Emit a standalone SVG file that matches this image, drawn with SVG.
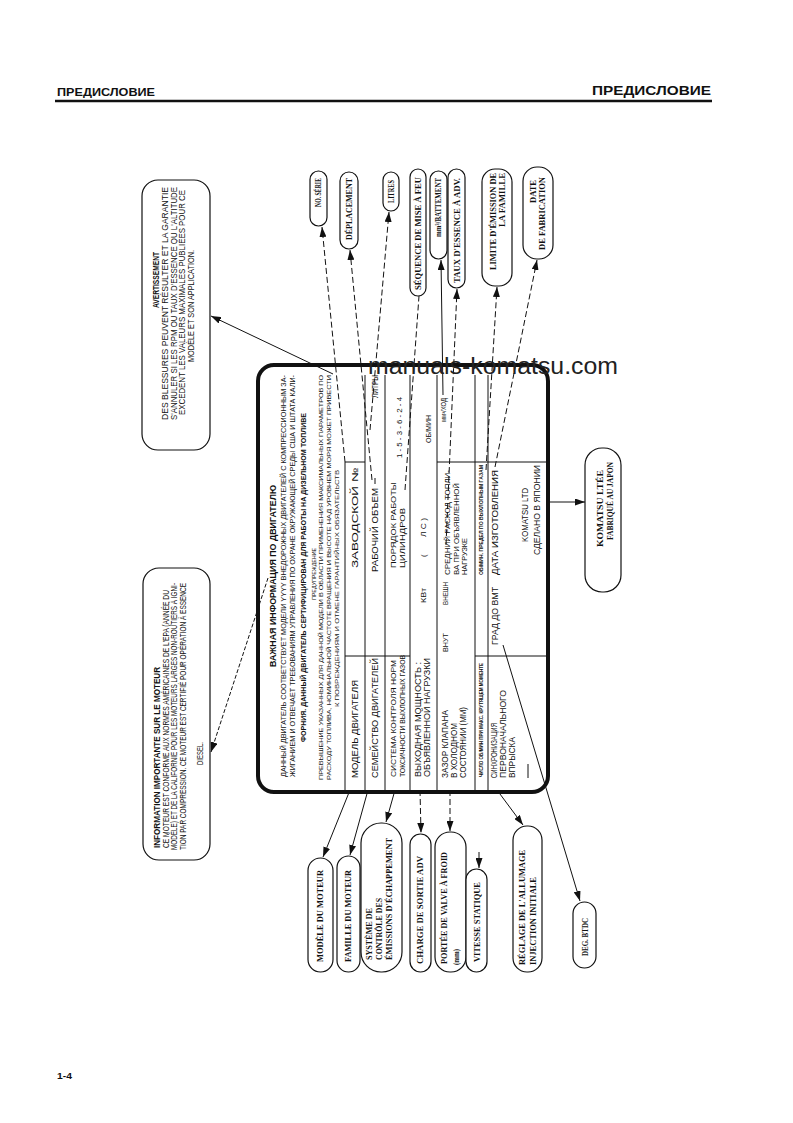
<svg xmlns="http://www.w3.org/2000/svg" width="793" height="1123" viewBox="0 0 793 1123">
<style>
.hd{font-family:"Liberation Sans",Arial,sans-serif;font-weight:bold;fill:#111}
.pt{font-family:"Liberation Sans",Arial,sans-serif;fill:#111}
.b{font-weight:bold}
.cb{font-family:"Liberation Serif","Times New Roman",serif;font-weight:bold;font-size:8px;fill:#111}
.bx{font-family:"Liberation Sans",Arial,sans-serif;font-size:8.5px;fill:#111}
.ln{stroke:#111;stroke-width:1;fill:none}
.dl{stroke:#111;stroke-width:1;fill:none;stroke-dasharray:6 3}
.bub{fill:#fff;stroke:#111;stroke-width:1.2}
.tl{stroke:#111;stroke-width:1;fill:none}
</style>
<defs>
<marker id="ah" viewBox="0 0 10 7" refX="10" refY="3.5" markerWidth="10" markerHeight="7" markerUnits="userSpaceOnUse" orient="auto">
<path d="M0,0 L10,3.5 L0,7 z" fill="#111"/>
</marker>
</defs>
<rect width="793" height="1123" fill="#fff"/>

<g id="header">
<text class="hd" x="57" y="96" font-size="11" textLength="98" lengthAdjust="spacingAndGlyphs">ПРЕДИСЛОВИЕ</text>
<text class="hd" x="592" y="95" font-size="13.5" textLength="119" lengthAdjust="spacingAndGlyphs">ПРЕДИСЛОВИЕ</text>
<line x1="55" y1="101" x2="712" y2="101" stroke="#111" stroke-width="2.5"/>
<text class="hd" x="57" y="1079" font-size="9" textLength="15" lengthAdjust="spacingAndGlyphs">1-4</text>
</g>

<g id="connectors">
<line class="ln" x1="333" y1="374" x2="211" y2="316" marker-end="url(#ah)"/>
<line class="ln" x1="268" y1="578" x2="211" y2="752" stroke-dasharray="4 2" marker-end="url(#ah)"/>
<line class="dl" x1="345" y1="462" x2="322" y2="227" marker-end="url(#ah)"/>
<line class="dl" x1="372" y1="480" x2="350" y2="250" marker-end="url(#ah)"/>
<line class="dl" x1="370" y1="430" x2="389" y2="212" marker-end="url(#ah)"/>
<line class="dl" x1="405" y1="490" x2="419" y2="296"/>
<line class="ln" x1="443" y1="395" x2="441" y2="260" marker-end="url(#ah)"/>
<line class="dl" x1="446" y1="545" x2="457" y2="289" marker-end="url(#ah)"/>
<line class="dl" x1="486" y1="470" x2="497" y2="287" marker-end="url(#ah)"/>
<line class="dl" x1="495" y1="467" x2="537" y2="260" marker-end="url(#ah)"/>
<line class="ln" x1="548" y1="502" x2="585" y2="502" marker-end="url(#ah)"/>
<line class="ln" x1="350" y1="790" x2="323" y2="857" marker-end="url(#ah)"/>
<line class="ln" x1="368" y1="790" x2="350" y2="855" marker-end="url(#ah)"/>
<line class="ln" x1="395" y1="790" x2="386" y2="822" marker-end="url(#ah)"/>
<line class="dl" x1="420" y1="790" x2="421" y2="833" marker-end="url(#ah)"/>
<line class="dl" x1="450" y1="790" x2="450" y2="831" marker-end="url(#ah)"/>
<line class="ln" x1="479" y1="852" x2="479" y2="868" marker-end="url(#ah)"/>
<line class="ln" x1="497" y1="790" x2="523" y2="825" marker-end="url(#ah)"/>
<line class="ln" x1="503" y1="645" x2="580" y2="901" marker-end="url(#ah)"/>
</g>

<g id="plate">
<rect x="258" y="365" width="290" height="427" rx="16" fill="none" stroke="#111" stroke-width="4"/>
<g class="tl">
<line x1="345" y1="462" x2="345" y2="790"/>
<line x1="365" y1="375" x2="365" y2="790"/>
<line x1="385" y1="375" x2="385" y2="790"/>
<line x1="410" y1="375" x2="410" y2="790"/>
<line x1="437" y1="375" x2="437" y2="790"/>
<line x1="475" y1="375" x2="475" y2="790"/>
<line x1="488" y1="375" x2="488" y2="790"/>
<line x1="345" y1="656" x2="410" y2="656"/>
<line x1="475" y1="656" x2="546" y2="656"/>
<line x1="345" y1="462" x2="365" y2="462"/>
<line x1="437" y1="462" x2="546" y2="462"/>
<line x1="375" y1="478" x2="375" y2="484"/>
<line x1="528" y1="764" x2="528" y2="778"/>
</g>
<text class="pt b" font-size="9" transform="translate(276,667) rotate(-90)" textLength="182" lengthAdjust="spacingAndGlyphs">ВАЖНАЯ ИНФОРМАЦИЯ ПО ДВИГАТЕЛЮ</text>
<text class="pt" font-size="7" transform="translate(285.5,777) rotate(-90)" textLength="402" lengthAdjust="spacingAndGlyphs">ДАННЫЙ ДВИГАТЕЛЬ СООТВЕТСТВУЕТ МОДЕЛИ YYYY ВНЕДОРОЖНЫХ ДВИГАТЕЛЕЙ С КОМПРЕССИОННЫМ ЗА-</text>
<text class="pt" font-size="7" transform="translate(294.5,777) rotate(-90)" textLength="402" lengthAdjust="spacingAndGlyphs">ЖИГАНИЕМ И ОТВЕЧАЕТ ТРЕБОВАНИЯМ УПРАВЛЕНИЯ ПО ОХРАНЕ ОКРУЖАЮЩЕЙ СРЕДЫ США И ШТАТА КАЛИ-</text>
<text class="pt b" font-size="7" transform="translate(305.5,742) rotate(-90)" textLength="329" lengthAdjust="spacingAndGlyphs">ФОРНИЯ. ДАННЫЙ ДВИГАТЕЛЬ СЕРТИФИЦИРОВАН ДЛЯ РАБОТЫ НА ДИЗЕЛЬНОМ ТОПЛИВЕ</text>
<text class="pt" font-size="6" transform="translate(316,600) rotate(-90)" textLength="52" lengthAdjust="spacingAndGlyphs">ПРЕДУПРЕЖДЕНИЕ</text>
<text class="pt" font-size="6" transform="translate(323,780) rotate(-90)" textLength="405" lengthAdjust="spacingAndGlyphs">ПРЕВЫШЕНИЕ УКАЗАННЫХ ДЛЯ ДАННОЙ МОДЕЛИ В ОБЛАСТИ ПРИМЕНЕНИЯ МАКСИМАЛЬНЫХ ПАРАМЕТРОВ ПО</text>
<text class="pt" font-size="6" transform="translate(331,780) rotate(-90)" textLength="405" lengthAdjust="spacingAndGlyphs">РАСХОДУ ТОПЛИВА, НОМИНАЛЬНОЙ ЧАСТОТЕ ВРАЩЕНИЯ И ВЫСОТЕ НАД УРОВНЕМ МОРЯ МОЖЕТ ПРИВЕСТИ</text>
<text class="pt" font-size="6" transform="translate(339,707) rotate(-90)" textLength="237" lengthAdjust="spacingAndGlyphs">К ПОВРЕЖДЕНИЯМ И ОТМЕНЕ ГАРАНТИЙНЫХ ОБЯЗАТЕЛЬСТВ</text>

<text class="pt" font-size="8.5" transform="translate(358,778) rotate(-90)" textLength="98" lengthAdjust="spacingAndGlyphs">МОДЕЛЬ ДВИГАТЕЛЯ</text>
<text class="pt" font-size="8.5" transform="translate(358,568) rotate(-90)" textLength="100" lengthAdjust="spacingAndGlyphs">ЗАВОДСКОЙ №</text>
<text class="pt" font-size="8.5" transform="translate(378,778) rotate(-90)" textLength="120" lengthAdjust="spacingAndGlyphs">СЕМЕЙСТВО ДВИГАТЕЛЕЙ</text>
<text class="pt" font-size="8.5" transform="translate(378,572) rotate(-90)" textLength="84" lengthAdjust="spacingAndGlyphs">РАБОЧИЙ ОБЪЕМ</text>
<text class="pt" font-size="8.5" transform="translate(378,398) rotate(-90)" textLength="23" lengthAdjust="spacingAndGlyphs">ЛИТРЫ</text>
<text class="pt" font-size="7.5" transform="translate(396,777) rotate(-90)" textLength="117" lengthAdjust="spacingAndGlyphs">СИСТЕМА КОНТРОЛЯ НОРМ</text>
<text class="pt" font-size="7.5" transform="translate(405,777) rotate(-90)" textLength="122" lengthAdjust="spacingAndGlyphs">ТОКСИЧНОСТИ ВЫХЛОПНЫХ ГАЗОВ</text>
<text class="pt" font-size="8" transform="translate(396,568) rotate(-90)" textLength="86" lengthAdjust="spacingAndGlyphs">ПОРЯДОК РАБОТЫ</text>
<text class="pt" font-size="8" transform="translate(405,568) rotate(-90)" textLength="60" lengthAdjust="spacingAndGlyphs">ЦИЛИНДРОВ</text>
<text class="pt" font-size="7.5" transform="translate(402,458) rotate(-90)" textLength="61" lengthAdjust="spacingAndGlyphs">1 - 5 - 3 - 6 - 2 - 4</text>
<text class="pt" font-size="8.5" transform="translate(421,777) rotate(-90)" textLength="115" lengthAdjust="spacingAndGlyphs">ВЫХОДНАЯ МОЩНОСТЬ :</text>
<text class="pt" font-size="8.5" transform="translate(430,777) rotate(-90)" textLength="119" lengthAdjust="spacingAndGlyphs">ОБЪЯВЛЕННОЙ НАГРУЗКИ</text>
<text class="pt" font-size="8" transform="translate(426,603) rotate(-90)" textLength="15" lengthAdjust="spacingAndGlyphs">КВт</text>
<text class="pt" font-size="8" transform="translate(426,557) rotate(-90)">(</text>
<text class="pt" font-size="8" transform="translate(426,537) rotate(-90)" textLength="19" lengthAdjust="spacingAndGlyphs">Л С )</text>
<text class="pt" font-size="8" transform="translate(431,443) rotate(-90)" textLength="28" lengthAdjust="spacingAndGlyphs">ОБ/МИН</text>
<text class="pt" font-size="8.5" transform="translate(448,778) rotate(-90)" textLength="68" lengthAdjust="spacingAndGlyphs">ЗАЗОР КЛАПАНА</text>
<text class="pt" font-size="8.5" transform="translate(457,778) rotate(-90)" textLength="55" lengthAdjust="spacingAndGlyphs">В ХОЛОДНОМ</text>
<text class="pt" font-size="8.5" transform="translate(466,778) rotate(-90)" textLength="71" lengthAdjust="spacingAndGlyphs">СОСТОЯНИИ (ММ)</text>
<text class="pt" font-size="8" transform="translate(448,652) rotate(-90)" textLength="19" lengthAdjust="spacingAndGlyphs">ВНУТ</text>
<text class="pt" font-size="8" transform="translate(448,605) rotate(-90)" textLength="23" lengthAdjust="spacingAndGlyphs">ВНЕШН</text>
<text class="pt" font-size="7" transform="translate(450,575) rotate(-90)" textLength="105" lengthAdjust="spacingAndGlyphs">СРЕДНИЙ РАСХОД ТОПЛИ-</text>
<text class="pt" font-size="7" transform="translate(458.5,575) rotate(-90)" textLength="92" lengthAdjust="spacingAndGlyphs">ВА ПРИ ОБЪЯВЛЕННОЙ</text>
<text class="pt" font-size="7" transform="translate(467,575) rotate(-90)" textLength="37" lengthAdjust="spacingAndGlyphs">НАГРУЗКЕ</text>
<text class="pt" font-size="7" transform="translate(446,422) rotate(-90)" textLength="24" lengthAdjust="spacingAndGlyphs">мм³/ХОД</text>
<text class="pt b" font-size="5" transform="translate(483,777) rotate(-90)" textLength="114" lengthAdjust="spacingAndGlyphs">ЧИСЛО ОБ/МИН ПРИ МАКС. КРУТЯЩЕМ МОМЕНТЕ</text>
<text class="pt b" font-size="5.5" transform="translate(483,575) rotate(-90)" textLength="110" lengthAdjust="spacingAndGlyphs">ОБ/МИН. ПРЕДЕЛ ПО ВЫХЛОПНЫМ ГАЗАМ</text>
<text class="pt" font-size="8.5" transform="translate(497,778) rotate(-90)" textLength="55" lengthAdjust="spacingAndGlyphs">СИНХРОНИЗАЦИЯ</text>
<text class="pt" font-size="8.5" transform="translate(506,778) rotate(-90)" textLength="88" lengthAdjust="spacingAndGlyphs">ПЕРВОНАЧАЛЬНОГО</text>
<text class="pt" font-size="8.5" transform="translate(515,778) rotate(-90)" textLength="41" lengthAdjust="spacingAndGlyphs">ВПРЫСКА</text>
<text class="pt" font-size="8.5" transform="translate(498,645) rotate(-90)" textLength="58" lengthAdjust="spacingAndGlyphs">ГРАД ДО ВМТ</text>
<text class="pt" font-size="8.5" transform="translate(498,575) rotate(-90)" textLength="105" lengthAdjust="spacingAndGlyphs">ДАТА ИЗГОТОВЛЕНИЯ</text>
<text class="pt" font-size="8.5" transform="translate(528,542) rotate(-90)" textLength="54" lengthAdjust="spacingAndGlyphs">KOMATSU LTD</text>
<text class="pt" font-size="8.5" transform="translate(540,555) rotate(-90)" textLength="90" lengthAdjust="spacingAndGlyphs">СДЕЛАНО В ЯПОНИИ</text>
</g>

<g id="avertissement">
<rect x="142" y="180" width="68" height="270" rx="16" fill="none" stroke="#111" stroke-width="1.2"/>
<text class="bx b" transform="translate(159,308) rotate(-90)" textLength="56" lengthAdjust="spacingAndGlyphs">AVERTISSEMENT</text>
<text class="bx" transform="translate(168,420) rotate(-90)" textLength="233" lengthAdjust="spacingAndGlyphs">DES BLESSURES PEUVENT RÉSULTER ET LA GARANTIE</text>
<text class="bx" transform="translate(176.5,420) rotate(-90)" textLength="233" lengthAdjust="spacingAndGlyphs">S'ANNULER SI LES RPM OU TAUX D'ESSENCE OU L'ALTITUDE</text>
<text class="bx" transform="translate(185,415) rotate(-90)" textLength="225" lengthAdjust="spacingAndGlyphs">EXCEDENT LES VALEURS MAXIMALES PUBLIÉES POUR CE</text>
<text class="bx" transform="translate(194,362) rotate(-90)" textLength="112" lengthAdjust="spacingAndGlyphs">MODÈLE ET SON APPLICATION.</text>
</g>

<g id="information">
<rect x="143" y="568" width="67" height="292" rx="16" fill="none" stroke="#111" stroke-width="1.2"/>
<text class="bx b" transform="translate(160,848) rotate(-90)" textLength="181" lengthAdjust="spacingAndGlyphs">INFORMATION IMPORTANTE SUR LE MOTEUR</text>
<text class="bx" transform="translate(168.5,848) rotate(-90)" textLength="258" lengthAdjust="spacingAndGlyphs">CE MOTEUR EST CONFORME AUX NORMES AMÉRICAINES DE L'EPA (ANNÉE DU</text>
<text class="bx" transform="translate(177,850) rotate(-90)" textLength="267" lengthAdjust="spacingAndGlyphs">MODÈLE) ET DE LA CALIFORNIE POUR LES MOTEURS LARGES NON-ROUTIERS À IGNI-</text>
<text class="bx" transform="translate(185.5,850) rotate(-90)" textLength="267" lengthAdjust="spacingAndGlyphs">TION PAR COMPRESSION. CE MOTEUR EST CERTIFIÉ POUR OPÉRATION À ESSENCE</text>
<text class="bx" transform="translate(203,765) rotate(-90)" textLength="23" lengthAdjust="spacingAndGlyphs">DIESEL.</text>
</g>

<g id="no-serie"><rect class="bub" x="310" y="171" width="17" height="55" rx="8.5"/><text class="cb" transform="translate(321,207) rotate(-90)" textLength="29" lengthAdjust="spacingAndGlyphs">NO. SÉRIE</text></g>
<g id="deplacement"><rect class="bub" x="340" y="172" width="18" height="77" rx="9"/><text class="cb" transform="translate(352,240) rotate(-90)" textLength="62" lengthAdjust="spacingAndGlyphs">DÉPLACEMENT</text></g>
<g id="litres"><rect class="bub" x="383" y="172" width="16" height="39" rx="8"/><text class="cb" transform="translate(394,203) rotate(-90)" textLength="23" lengthAdjust="spacingAndGlyphs">LITRES</text></g>
<g id="sequence"><rect class="bub" x="410" y="169" width="16" height="127" rx="8"/><text class="cb" transform="translate(420.5,290) rotate(-90)" textLength="113" lengthAdjust="spacingAndGlyphs">SÉQUENCE DE MISE À FEU</text></g>
<g id="battement"><rect class="bub" x="430" y="171" width="17" height="88" rx="8.5"/><text class="cb" transform="translate(441,237) rotate(-90)" textLength="59" lengthAdjust="spacingAndGlyphs">mm³/BATTEMENT</text></g>
<g id="taux"><rect class="bub" x="448" y="169" width="17" height="119" rx="8.5"/><text class="cb" transform="translate(460,283) rotate(-90)" textLength="105" lengthAdjust="spacingAndGlyphs">TAUX D'ESSENCE À ADV.</text></g>
<g id="limite"><rect class="bub" x="482" y="169" width="30" height="117" rx="13"/><text class="cb" transform="translate(496,270) rotate(-90)" textLength="97" lengthAdjust="spacingAndGlyphs">LIMITE D'ÉMISSION DE</text><text class="cb" transform="translate(505,227) rotate(-90)" textLength="54" lengthAdjust="spacingAndGlyphs">LA FAMILLE</text></g>
<g id="date"><rect class="bub" x="523" y="167" width="30" height="92" rx="14"/><text class="cb" transform="translate(536,203) rotate(-90)" textLength="23" lengthAdjust="spacingAndGlyphs">DATE</text><text class="cb" transform="translate(545,250) rotate(-90)" textLength="73" lengthAdjust="spacingAndGlyphs">DE FABRICATION</text></g>
<g id="komatsu"><rect class="bub" x="585" y="448" width="36" height="144" rx="17"/><text class="cb" transform="translate(603,547) rotate(-90)" textLength="77" lengthAdjust="spacingAndGlyphs">KOMATSU LTÉE</text><text class="cb" transform="translate(613,540) rotate(-90)" textLength="78" lengthAdjust="spacingAndGlyphs">FABRIQUÉ AU JAPON</text></g>

<g id="modele"><rect class="bub" x="308" y="858" width="25" height="114" rx="12.5"/><text class="cb" transform="translate(323,962) rotate(-90)" textLength="92" lengthAdjust="spacingAndGlyphs">MODÈLE DU MOTEUR</text></g>
<g id="famille"><rect class="bub" x="337" y="856" width="23" height="116" rx="11.5"/><text class="cb" transform="translate(351,962) rotate(-90)" textLength="92" lengthAdjust="spacingAndGlyphs">FAMILLE DU MOTEUR</text></g>
<g id="systeme"><rect class="bub" x="361" y="823" width="41" height="149" rx="20"/><text class="cb" transform="translate(372,960) rotate(-90)" textLength="52" lengthAdjust="spacingAndGlyphs">SYSTÈME DE</text><text class="cb" transform="translate(382,960) rotate(-90)" textLength="62" lengthAdjust="spacingAndGlyphs">CONTRÔLE DES</text><text class="cb" transform="translate(392,960) rotate(-90)" textLength="122" lengthAdjust="spacingAndGlyphs">ÉMISSIONS D'ÉCHAPPEMENT</text></g>
<g id="charge"><rect class="bub" x="410" y="834" width="21" height="138" rx="10.5"/><text class="cb" transform="translate(423,964) rotate(-90)" textLength="108" lengthAdjust="spacingAndGlyphs">CHARGE DE SORTIE ADV</text></g>
<g id="portee"><rect class="bub" x="435" y="832" width="31" height="140" rx="15"/><text class="cb" transform="translate(447,964) rotate(-90)" textLength="112" lengthAdjust="spacingAndGlyphs">PORTÉE DE VALVE À FROID</text><text class="cb" transform="translate(459,965) rotate(-90)" textLength="16" lengthAdjust="spacingAndGlyphs">(mm)</text></g>
<g id="vitesse"><rect class="bub" x="466" y="869" width="21" height="103" rx="10.5"/><text class="cb" transform="translate(480,962) rotate(-90)" textLength="80" lengthAdjust="spacingAndGlyphs">VITESSE STATIQUE</text></g>
<g id="reglage"><rect class="bub" x="513" y="826" width="29" height="146" rx="14"/><text class="cb" transform="translate(525,965) rotate(-90)" textLength="115" lengthAdjust="spacingAndGlyphs">RÉGLAGE DE L'ALLUMAGE</text><text class="cb" transform="translate(536,965) rotate(-90)" textLength="88" lengthAdjust="spacingAndGlyphs">INJECTION INITIALE</text></g>
<g id="deg-btdc"><rect class="bub" x="573" y="902" width="23" height="66" rx="11.5"/><text class="cb" transform="translate(588,956) rotate(-90)" textLength="38" lengthAdjust="spacingAndGlyphs">DEG. BTDC</text></g>

<g id="watermark">
<text x="368" y="374" font-family="'Liberation Sans',Arial,sans-serif" font-size="24" fill="#222" textLength="250" lengthAdjust="spacingAndGlyphs">manuals-komatsu.com</text>
</g>
</svg>
